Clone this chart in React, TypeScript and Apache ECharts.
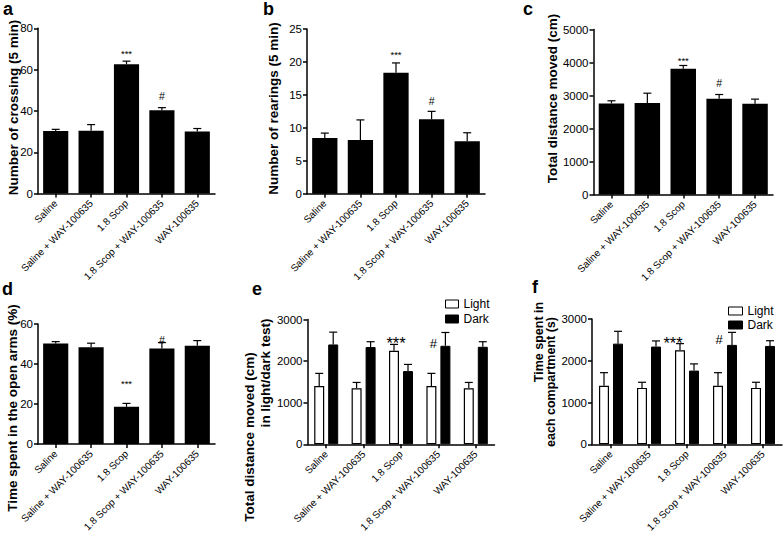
import React, { useEffect, useRef } from "react";
import * as echarts from "echarts";

const FONT = "Liberation Sans, Arial, Helvetica, sans-serif";

const categories = ["Saline", "Saline + WAY-100635", "1.8 Scop", "1.8 Scop + WAY-100635", "WAY-100635"];

// a: Number of crossing (5 min)
const crossingMean = [30.3, 30.4, 62.6, 40.3, 30.1];
const crossingErr = [0.8, 3.0, 1.5, 1.3, 1.4];
// b: Number of rearings (5 min)
const rearingMean = [8.45, 8.15, 18.35, 11.3, 7.95];
const rearingErr = [0.75, 3.05, 1.5, 1.2, 1.3];
// c: Total distance moved (cm)
const distanceMean = [2760, 2770, 3810, 2900, 2750];
const distanceErr = [80, 300, 100, 130, 140];
// d: Time spent in the open arms (%)
const openArmsMean = [50.2, 48.4, 18.6, 47.7, 49.1];
const openArmsErr = [1.0, 2.0, 1.7, 3.0, 2.6];
// e: Total distance moved in light/dark test
const eLightMean = [1400, 1345, 2250, 1400, 1345];
const eLightErr = [305, 142, 152, 305, 142];
const eDarkMean = [2400, 2338, 1760, 2368, 2344];
const eDarkErr = [296, 128, 160, 320, 122];
// f: Time spent in each compartment (s)
const fLightMean = [1400, 1350, 2250, 1400, 1350];
const fLightErr = [315, 135, 160, 315, 135];
const fDarkMean = [2410, 2340, 1765, 2380, 2355];
const fDarkErr = [295, 135, 160, 300, 125];

// y axis ranges
const yMax = [80, 25, 5000, 60, 3000, 3000];
const yStep = [20, 5, 1000, 20, 1000, 1000];

// significance marks: category index, level (data units), mark
const sigA = [{ index: 2, level: 67.6, mark: "***" }, { index: 3, level: 47.2, mark: "#" }];
const sigB = [{ index: 2, level: 21.1, mark: "***" }, { index: 3, level: 14.1, mark: "#" }];
const sigC = [{ index: 2, level: 4060, mark: "***" }, { index: 3, level: 3370, mark: "#" }];
const sigD = [{ index: 2, level: 30.5, mark: "***" }, { index: 3, level: 52.2, mark: "#" }];
const sigE = [{ index: 2, level: 2440, mark: "***" }, { index: 3, level: 2420, mark: "#" }];
const sigF = [{ index: 2, level: 2430, mark: "***" }, { index: 3, level: 2503, mark: "#" }];

const grids = [
  { left: 38, top: 28.3, width: 177, height: 165.3 },
  { left: 307, top: 29, width: 178, height: 164.7 },
  { left: 593.5, top: 29.5, width: 179.5, height: 165 },
  { left: 38, top: 324, width: 177, height: 120 },
  { left: 307.5, top: 319.5, width: 187, height: 124.8 },
  { left: 592, top: 319, width: 190, height: 125.3 },
];

function errSeries(g: number, means: number[], errs: number[], offset: number) {
  return {
    type: "custom",
    xAxisIndex: g,
    yAxisIndex: g,
    z: 5,
    silent: true,
    data: means.map((m, i) => [i, m, errs[i]]),
    encode: { x: 0, y: 1 },
    renderItem: (_p: any, api: any) => {
      const i = api.value(0);
      const m = api.value(1);
      const e = api.value(2);
      const base = api.coord([i, m]);
      const top = api.coord([i, m + e]);
      const x = base[0] + offset;
      const st = { stroke: "#000", lineWidth: 1.2 };
      return {
        type: "group",
        children: [
          { type: "line", shape: { x1: x, y1: base[1], x2: x, y2: top[1] }, style: st },
          { type: "line", shape: { x1: x - 4, y1: top[1], x2: x + 4, y2: top[1] }, style: st },
        ],
      };
    },
  };
}

function sigSeries(g: number, sig: { index: number; level: number; mark: string }[], sizes: [number, number], offsets: number[]) {
  return {
    type: "custom",
    xAxisIndex: g,
    yAxisIndex: g,
    z: 6,
    silent: true,
    data: sig.map((s) => [s.index, s.level]),
    encode: { x: 0, y: 1 },
    renderItem: (p: any, api: any) => {
      const k = p.dataIndex;
      const s = sig[k];
      const pt = api.coord([api.value(0), api.value(1)]);
      return {
        type: "text",
        x: pt[0] + offsets[k],
        y: pt[1],
        style: {
          text: s.mark,
          fill: "#000",
          font: `${s.mark === "#" ? sizes[1] : sizes[0]}px ${FONT}`,
          align: "center",
          verticalAlign: "middle",
        },
      };
    },
  };
}

function singleBar(g: number, means: number[]) {
  return {
    type: "bar",
    xAxisIndex: g,
    yAxisIndex: g,
    barWidth: "71%",
    itemStyle: { color: "#000" },
    data: means,
  };
}

function groupBar(g: number, name: string, means: number[], light: boolean) {
  return {
    type: "bar",
    name,
    xAxisIndex: g,
    yAxisIndex: g,
    barWidth: 10,
    barGap: "40%",
    itemStyle: light ? { color: "#fff", borderColor: "#000", borderWidth: 1.2 } : { color: "#000", borderColor: "#000", borderWidth: 1 },
    data: means,
  };
}

function vtext(text: string, x: number, y: number, size: number) {
  return {
    type: "text",
    x,
    y,
    rotation: Math.PI / 2,
    style: {
      text,
      x: 0,
      y: 0,
      font: `bold ${size}px ${FONT}`,
      fill: "#000",
      align: "center",
      verticalAlign: "middle",
      textAlign: "center",
      textVerticalAlign: "middle",
    },
  };
}

function letter(text: string, x: number, y: number) {
  return {
    type: "text",
    x,
    y,
    style: {
      text,
      x: 0,
      y: 0,
      font: `bold 18px ${FONT}`,
      fill: "#000",
      align: "left",
      verticalAlign: "middle",
      textAlign: "left",
      textVerticalAlign: "middle",
    },
  };
}

export default function App() {
  const ref = useRef<HTMLDivElement>(null);
  useEffect(() => {
    document.body.style.margin = "0";
    if (!ref.current) return;
    const chart = echarts.init(ref.current, null, { renderer: "svg" });
    const axisLine = { show: true, lineStyle: { color: "#000", width: 1.5 } };
    const axisTick = { show: true, length: 4, lineStyle: { color: "#000", width: 1.5 } };
    const option: any = {
      animation: false,
      backgroundColor: "#fff",
      textStyle: { fontFamily: FONT },
      grid: grids.map((g) => ({ ...g, containLabel: false, outerBoundsMode: "none" })),
      xAxis: grids.map((_g, i) => ({
        type: "category",
        gridIndex: i,
        data: categories,
        axisLine,
        axisTick: { ...axisTick, alignWithLabel: true },
        axisLabel: { interval: 0, rotate: 45, fontSize: 10, color: "#000", fontFamily: FONT, margin: 8 },
        splitLine: { show: false },
      })),
      yAxis: grids.map((_g, i) => ({
        type: "value",
        gridIndex: i,
        min: 0,
        max: yMax[i],
        interval: yStep[i],
        axisLine,
        axisTick,
        axisLabel: { fontSize: 11.5, color: "#000", fontFamily: FONT, margin: 5, formatter: (v: number) => String(v) },
        splitLine: { show: false },
      })),
      legend: [
        {
          data: ["Light", "Dark"],
          orient: "vertical",
          left: 445,
          top: 298,
          padding: 0,
          itemWidth: 13,
          itemHeight: 8,
          itemGap: 3,
          icon: "rect",
          selectedMode: false,
          itemStyle: { borderWidth: 1 },
          textStyle: { fontSize: 12, lineHeight: 12, color: "#000", fontFamily: FONT },
        },
        {
          data: ["Light", "Dark"],
          orient: "vertical",
          left: 728,
          top: 305,
          padding: 0,
          itemWidth: 14,
          itemHeight: 8,
          itemGap: 2,
          icon: "rect",
          selectedMode: false,
          itemStyle: { borderWidth: 1 },
          textStyle: { fontSize: 12, lineHeight: 12, color: "#000", fontFamily: FONT },
        },
      ],
      series: [
        singleBar(0, crossingMean),
        errSeries(0, crossingMean, crossingErr, 0),
        sigSeries(0, sigA, [9.5, 10.5], [0, 0]),
        singleBar(1, rearingMean),
        errSeries(1, rearingMean, rearingErr, 0),
        sigSeries(1, sigB, [9.5, 10.5], [0, 0]),
        singleBar(2, distanceMean),
        errSeries(2, distanceMean, distanceErr, 0),
        sigSeries(2, sigC, [9.5, 10.5], [0, 0]),
        singleBar(3, openArmsMean),
        errSeries(3, openArmsMean, openArmsErr, 0),
        sigSeries(3, sigD, [9.5, 10.5], [0, 0]),
        groupBar(4, "Light", eLightMean, true),
        groupBar(4, "Dark", eDarkMean, false),
        errSeries(4, eLightMean, eLightErr, -7),
        errSeries(4, eDarkMean, eDarkErr, 7),
        sigSeries(4, sigE, [16.5, 13], [-5, -5]),
        groupBar(5, "Light", fLightMean, true),
        groupBar(5, "Dark", fDarkMean, false),
        errSeries(5, fLightMean, fLightErr, -7),
        errSeries(5, fDarkMean, fDarkErr, 7),
        sigSeries(5, sigF, [16.5, 13], [-14, -6]),
      ],
      graphic: [
        letter("a", 3, 8.7),
        letter("b", 263, 8.7),
        letter("c", 523, 8.7),
        letter("d", 2, 288.7),
        letter("e", 252, 288.7),
        letter("f", 532, 286.7),
        vtext("Number of crossing (5 min)", 13.5, 107.5, 13.5),
        vtext("Number of rearings (5 min)", 273.5, 108.5, 13.5),
        vtext("Total distance moved (cm)", 552, 98.5, 13.5),
        vtext("Time spent in the open arms (%)", 12.5, 408, 13.5),
        vtext("Total distance moved (cm)", 249, 437, 13.5),
        vtext("in light/dark test)", 265, 373, 13.5),
        vtext("Time spent in", 539, 342, 12.5),
        vtext("each compartment (s)", 551, 382, 12.5),
      ],
    };
    chart.setOption(option);
    return () => chart.dispose();
  }, []);
  return <div ref={ref} style={{ width: 784, height: 533 }} />;
}
